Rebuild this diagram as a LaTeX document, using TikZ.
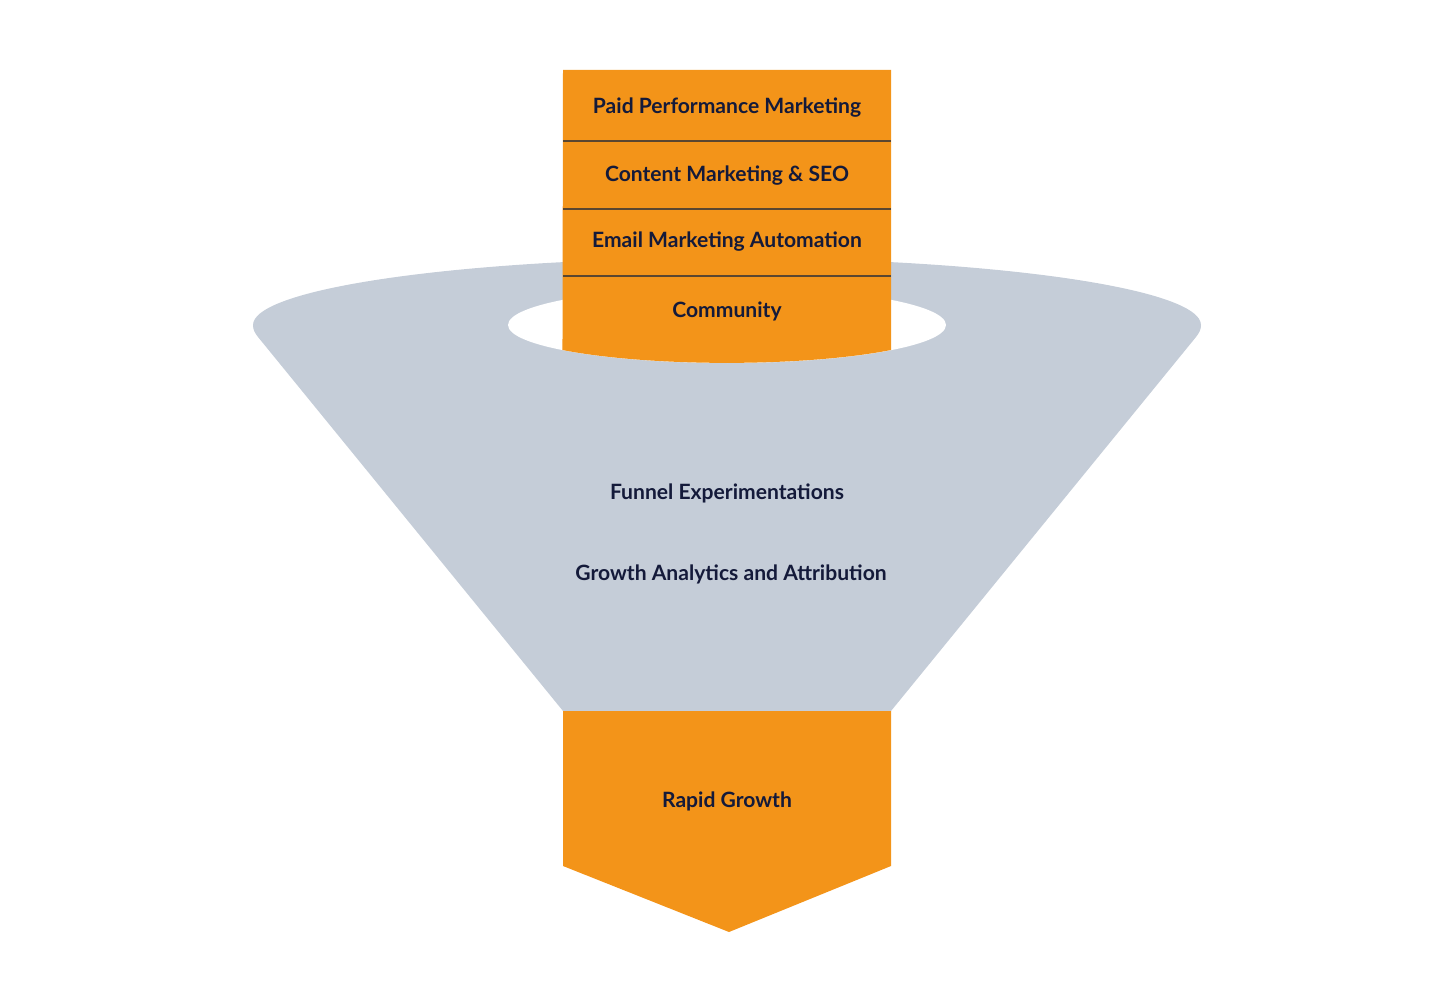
\documentclass[tikz,border=0pt]{standalone}
\usepackage{fontspec}
\setmainfont{Lato}
\definecolor{orng}{HTML}{F39419}
\definecolor{fgray}{HTML}{C5CDD8}
\definecolor{navy}{HTML}{141A3A}
\definecolor{divline}{HTML}{5A4630}
\tikzset{
  lbl/.style={text=navy, font=\bfseries\fontsize{12}{14}\selectfont, inner sep=0pt},
  divider/.style={draw=divline, line width=0.6pt}
}
\begin{document}
\begin{tikzpicture}[x=0.02cm,y=-0.02cm]
\useasboundingbox (0,0) rectangle (1454,1000);
% funnel body
\fill[fgray] (253,325) arc[start angle=180,end angle=360,x radius=474,y radius=67]
  .. controls (1201,330) and (1199,333) .. (1196,337)
  -- (891,711) -- (563,711) -- (258,337) .. controls (255,333) and (253,330) .. (253,325) -- cycle;
% hole
\fill[white] (727,325) ellipse[x radius=219,y radius=38];
% stack
\fill[orng] (563,70) -- (891,70) -- (891,350)
  arc[start angle=-41.4,end angle=-138.6,x radius=219,y radius=-38] -- cycle;
\coordinate (d1l) at (563,141); \coordinate (d1r) at (891,141);
\coordinate (d2l) at (563,209); \coordinate (d2r) at (891,209);
\coordinate (d3l) at (563,276); \coordinate (d3r) at (891,276);
\draw[divider] (d1l) -- (d1r);
\draw[divider] (d2l) -- (d2r);
\draw[divider] (d3l) -- (d3r);
\node[lbl] (paid) at (727,108) {Paid Performance Marketing};
\node[lbl] (content) at (727,176) {Content Marketing \& SEO};
\node[lbl] (email) at (727,242) {Email Marketing Automation};
\node[lbl] (comm) at (727,311) {Community};
\node[lbl] (funnel) at (727,493) {Funnel Experimentations};
\node[lbl] (analytics) at (731,574) {Growth Analytics and Attribution};
% rapid growth
\fill[orng] (563,711) -- (891,711) -- (891,866) -- (729,932) -- (563,866) -- cycle;
\node[lbl] (rapid) at (727,801) {Rapid Growth};
\end{tikzpicture}
\end{document}
